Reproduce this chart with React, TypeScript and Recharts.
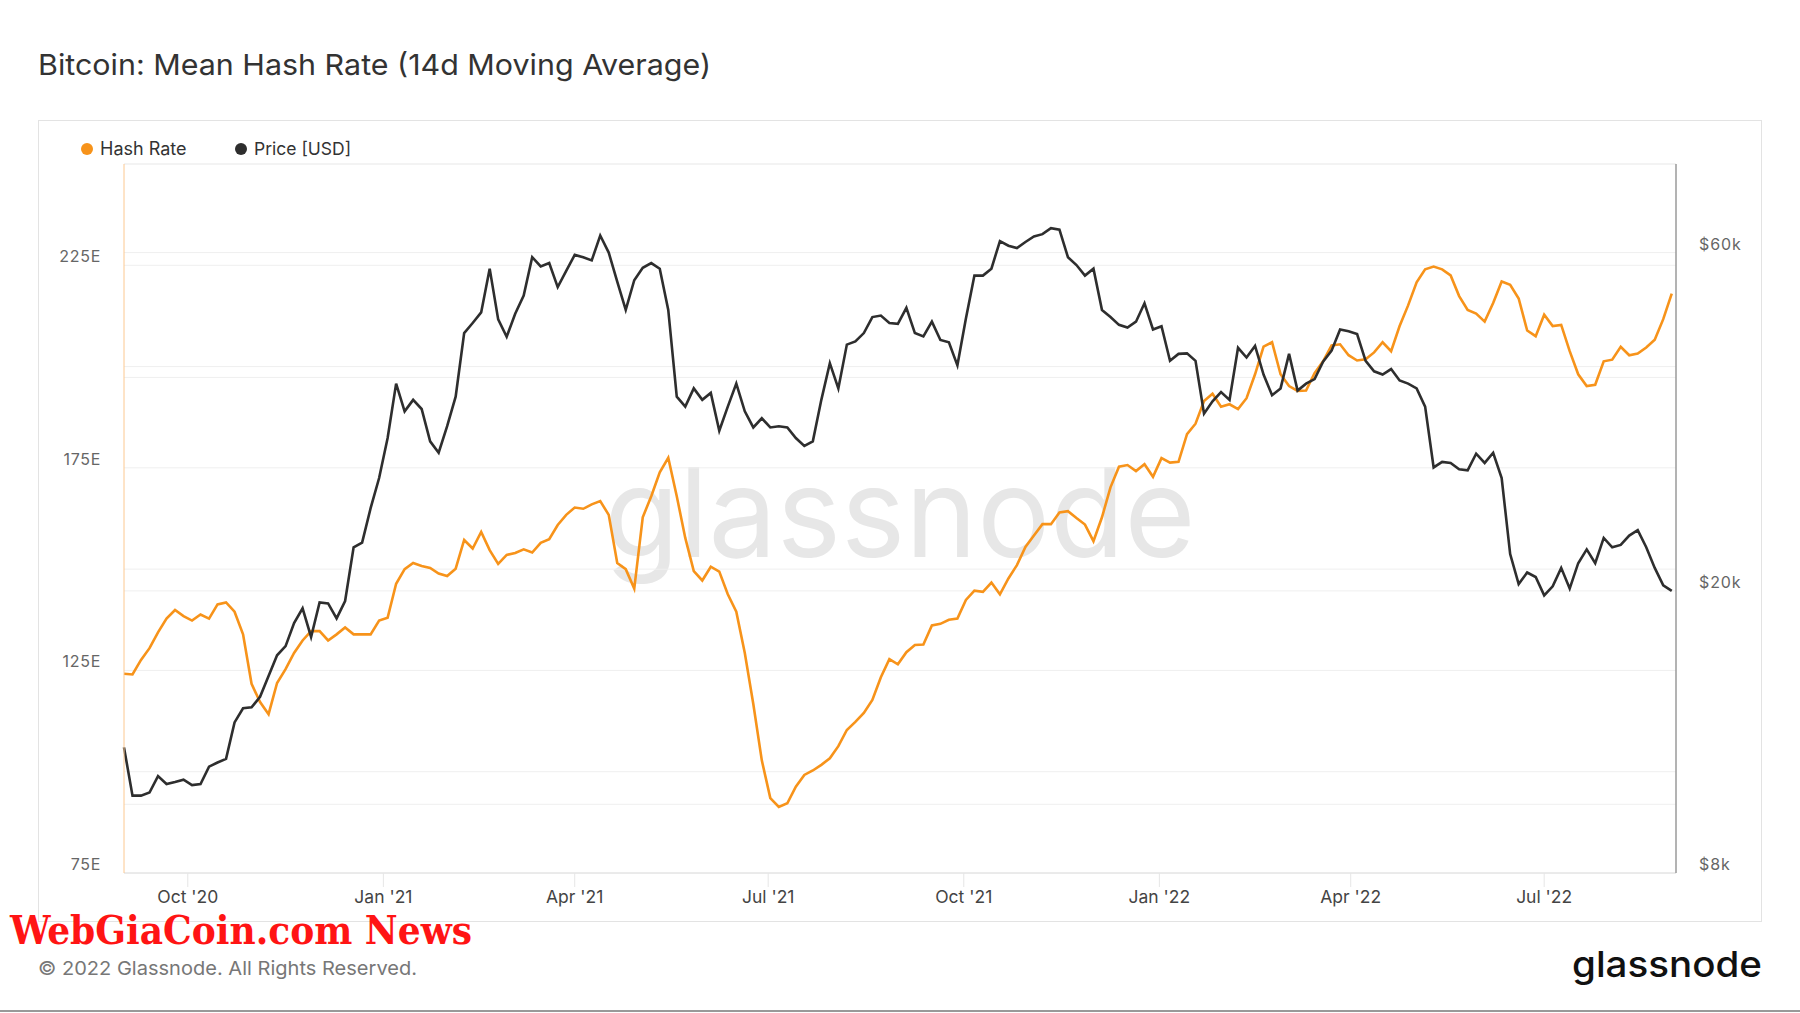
import React from "react";
import { ComposedChart, Line, XAxis, YAxis, CartesianGrid } from "recharts";

// one reading every 4 days, Sep 2020 -> Aug 2022
const dates = [
  "2020-09-01", "2020-09-05", "2020-09-09", "2020-09-13", "2020-09-17", "2020-09-21", "2020-09-25", "2020-09-29",
  "2020-10-03", "2020-10-07", "2020-10-11", "2020-10-15", "2020-10-19", "2020-10-23", "2020-10-27", "2020-10-31",
  "2020-11-04", "2020-11-08", "2020-11-12", "2020-11-16", "2020-11-20", "2020-11-24", "2020-11-28",
  "2020-12-02", "2020-12-06", "2020-12-10", "2020-12-14", "2020-12-18", "2020-12-22", "2020-12-26", "2020-12-30",
  "2021-01-03", "2021-01-07", "2021-01-11", "2021-01-15", "2021-01-19", "2021-01-23", "2021-01-27", "2021-01-31",
  "2021-02-04", "2021-02-08", "2021-02-12", "2021-02-16", "2021-02-20", "2021-02-24", "2021-02-28",
  "2021-03-04", "2021-03-08", "2021-03-12", "2021-03-16", "2021-03-20", "2021-03-24", "2021-03-28",
  "2021-04-01", "2021-04-05", "2021-04-09", "2021-04-13", "2021-04-17", "2021-04-21", "2021-04-25", "2021-04-29",
  "2021-05-03", "2021-05-07", "2021-05-11", "2021-05-15", "2021-05-19", "2021-05-23", "2021-05-27", "2021-05-31",
  "2021-06-04", "2021-06-08", "2021-06-12", "2021-06-16", "2021-06-20", "2021-06-24", "2021-06-28",
  "2021-07-02", "2021-07-06", "2021-07-10", "2021-07-14", "2021-07-18", "2021-07-22", "2021-07-26", "2021-07-30",
  "2021-08-03", "2021-08-07", "2021-08-11", "2021-08-15", "2021-08-19", "2021-08-23", "2021-08-27", "2021-08-31",
  "2021-09-04", "2021-09-08", "2021-09-12", "2021-09-16", "2021-09-20", "2021-09-24", "2021-09-28",
  "2021-10-02", "2021-10-06", "2021-10-10", "2021-10-14", "2021-10-18", "2021-10-22", "2021-10-26", "2021-10-30",
  "2021-11-03", "2021-11-07", "2021-11-11", "2021-11-15", "2021-11-19", "2021-11-23", "2021-11-27",
  "2021-12-01", "2021-12-05", "2021-12-09", "2021-12-13", "2021-12-17", "2021-12-21", "2021-12-25", "2021-12-29",
  "2022-01-02", "2022-01-06", "2022-01-10", "2022-01-14", "2022-01-18", "2022-01-22", "2022-01-26", "2022-01-30",
  "2022-02-03", "2022-02-07", "2022-02-11", "2022-02-15", "2022-02-19", "2022-02-23", "2022-02-27",
  "2022-03-03", "2022-03-07", "2022-03-11", "2022-03-15", "2022-03-19", "2022-03-23", "2022-03-27", "2022-03-31",
  "2022-04-04", "2022-04-08", "2022-04-12", "2022-04-16", "2022-04-20", "2022-04-24", "2022-04-28",
  "2022-05-02", "2022-05-06", "2022-05-10", "2022-05-14", "2022-05-18", "2022-05-22", "2022-05-26", "2022-05-30",
  "2022-06-03", "2022-06-07", "2022-06-11", "2022-06-15", "2022-06-19", "2022-06-23", "2022-06-27",
  "2022-07-01", "2022-07-05", "2022-07-09", "2022-07-13", "2022-07-17", "2022-07-21", "2022-07-25", "2022-07-29",
  "2022-08-02", "2022-08-06", "2022-08-10", "2022-08-14", "2022-08-18", "2022-08-22", "2022-08-26", "2022-08-30",
];

// mean hash rate, 14d MA (EH/s)
const hashRate = [
  124.2, 124.0, 127.6, 130.5, 134.4, 137.8, 139.9, 138.4,
  137.3, 138.8, 137.8, 141.3, 141.8, 139.5, 133.9, 121.7,
  117.2, 114.2, 121.9, 125.3, 129.3, 132.4, 134.7,
  134.7, 132.4, 133.9, 135.6, 133.9, 133.9, 133.9, 137.3,
  138.0, 146.4, 150.0, 151.5, 150.8, 150.3, 148.9, 148.3,
  150.1, 157.2, 155.1, 159.2, 154.7, 151.3, 153.5,
  154.0, 154.9, 154.1, 156.5, 157.4, 160.9, 163.4,
  165.2, 164.9, 166.0, 166.8, 163.4, 151.5, 150.0, 145.2,
  162.8, 168.0, 173.9, 177.5, 168.0, 157.7, 149.5, 147.2,
  150.6, 149.4, 143.8, 139.5, 129.3, 116.7, 102.8,
  93.5, 91.3, 92.2, 96.3, 99.2, 100.3, 101.7, 103.3,
  106.3, 110.3, 112.3, 114.5, 117.7, 123.3, 127.8, 126.5,
  129.5, 131.3, 131.4, 136.1, 136.5, 137.5, 137.8,
  142.4, 144.7, 144.4, 146.7, 143.8, 147.7, 151.0, 155.5,
  158.3, 161.1, 161.1, 164.0, 164.3, 162.6, 161.0,
  156.9, 162.8, 170.2, 175.3, 175.7, 174.2, 175.9, 172.8,
  177.4, 176.3, 176.5, 183.3, 185.9, 191.5, 193.3, 190.1,
  190.7, 189.5, 192.2, 198.1, 204.9, 206.0, 198.1,
  195.2, 194.0, 194.1, 198.4, 201.3, 205.2, 205.5, 202.8,
  201.5, 201.8, 203.5, 206.0, 203.8, 210.0, 215.1,
  220.8, 224.0, 224.7, 224.0, 222.5, 217.4, 214.0, 213.1,
  211.1, 215.7, 221.0, 220.2, 216.8, 208.9, 207.5,
  212.8, 210.0, 210.3, 203.8, 198.1, 195.2, 195.5, 201.3,
  201.7, 204.9, 202.8, 203.2, 204.7, 206.6, 211.7, 218.0,
];

// BTC price (USD)
const price = [
  12030, 10285, 10285, 10390, 10960, 10680, 10750, 10830,
  10645, 10680, 11300, 11455, 11590, 13045, 13660, 13700,
  14180, 15170, 16225, 16715, 18010, 18900, 17220,
  19260, 19200, 18290, 19350, 23040, 23400, 26160, 28850,
  32850, 39200, 35830, 37190, 36100, 32500, 31320, 34140,
  37570, 46200, 47740, 49400, 56950, 48300, 45640,
  49180, 52200, 59100, 57360, 57990, 53640, 56530,
  59550, 59100, 58500, 63420, 60000, 54580, 49800, 54850,
  57100, 57990, 56940, 49800, 37580, 36380, 38600, 37190,
  38040, 33640, 36380, 39200, 35830, 34000, 35030,
  34000, 34130, 34000, 32850, 32030, 32500, 37190, 41900,
  38600, 44500, 44960, 46200, 48660, 48900, 47740, 47600,
  50140, 46200, 45700, 47940, 45170, 44830, 41600,
  48450, 55680, 55680, 56950, 62290, 61360, 60900, 62100,
  63220, 63700, 64940, 64650, 59100, 57620, 55680,
  56950, 49800, 48660, 47450, 47030, 47940, 50900, 46740,
  47230, 42230, 43180, 43250, 42220, 35560, 37020, 38140,
  37190, 44040, 42670, 44300, 40380, 37750, 38600,
  43180, 38330, 39200, 39780, 42110, 43640, 46740, 46470,
  46050, 42220, 40800, 40380, 41100, 39600, 39200,
  38600, 36380, 29860, 30400, 30300, 29680, 29590, 31220,
  30300, 31320, 28850, 22540, 20450, 21230, 20920,
  19710, 20300, 21550, 20150, 21880, 22880, 21880, 23750,
  23040, 23220, 23930, 24360, 23040, 21550, 20360, 20000,
];

const xTickDates = ["2020-10-01", "2021-01-01", "2021-04-01", "2021-07-01", "2021-10-01", "2022-01-01", "2022-04-01", "2022-07-01"];
const xTickLabels = ["Oct '20", "Jan '21", "Apr '21", "Jul '21", "Oct '21", "Jan '22", "Apr '22", "Jul '22"];
const hashTicks = [75, 100, 125, 150, 175, 200, 225, 250];
const hashTickLabels = ["75E", "", "125E", "", "175E", "", "225E", ""];
const priceTicks = [8000, 10000, 20000, 40000, 60000];
const priceTickLabels = ["$8k", "", "$20k", "", "$60k"];

const FONT = "Inter, 'Noto Sans', sans-serif";
const ORANGE = "#f7931a";
const DARK = "#2e2e2e";

const data = dates.map((d, i) => ({ t: Date.parse(d), hash: hashRate[i], price: price[i] }));
const xTicks = xTickDates.map((d) => Date.parse(d));

const XTick = (props: any) => {
  const { x, y, payload } = props;
  const label = xTickLabels[xTicks.indexOf(payload.value)];
  return (
    <text x={x} y={y} dy={7} textAnchor="middle" dominantBaseline="central" fontSize={17.5} fill="#444" fontFamily={FONT}>
      {label}
    </text>
  );
};

const HashTick = (props: any) => {
  const { x, y, payload } = props;
  const label = hashTickLabels[hashTicks.indexOf(payload.value)];
  if (!label) return <g />;
  return (
    <text x={x} y={y} dy={-9} textAnchor="end" dominantBaseline="central" fontSize={16} fill="#666" fontFamily={FONT} letterSpacing={0.7}>
      {label}
    </text>
  );
};

const PriceTick = (props: any) => {
  const { x, y, payload } = props;
  const label = priceTickLabels[priceTicks.indexOf(payload.value)];
  if (!label) return <g />;
  return (
    <text x={x} y={y} dy={-9} textAnchor="start" dominantBaseline="central" fontSize={16} fill="#666" fontFamily={FONT} letterSpacing={0.9}>
      {label}
    </text>
  );
};

export default function App() {
  return (
    <div style={{ position: "absolute", left: 0, top: 0, width: 1800, height: 1013, background: "#fff", overflow: "hidden" }}>
      {/* frame, titles, watermark */}
      <svg width={1800} height={1013} style={{ position: "absolute", left: 0, top: 0 }}>
        <text x={38} y={75} fontSize={29} fill="#333" fontFamily={FONT} textLength={673} lengthAdjust="spacingAndGlyphs">
          Bitcoin: Mean Hash Rate (14d Moving Average)
        </text>
        <rect x={38.5} y={120.5} width={1723} height={801} fill="none" stroke="#e3e3e3" />
        <circle cx={87} cy={149} r={6} fill={ORANGE} />
        <text x={100} y={155} fontSize={18} fill="#333" fontFamily={FONT}>Hash Rate</text>
        <circle cx={241} cy={149} r={6} fill={DARK} />
        <text x={254} y={155} fontSize={17.5} fill="#333" fontFamily={FONT}>Price [USD]</text>
        <text x={900} y={557} textAnchor="middle" fontSize={124} fill="#e7e7e7" fontFamily={FONT}
          textLength={591} lengthAdjust="spacingAndGlyphs">
          glassnode
        </text>
        <text x={38} y={975} fontSize={19} fill="#777" fontFamily={FONT} textLength={379} lengthAdjust="spacingAndGlyphs">
          © 2022 Glassnode. All Rights Reserved.
        </text>
        <text x={1762} y={977} textAnchor="end" fontSize={36} fontWeight={500} fill="#111" fontFamily={FONT}
          textLength={190} lengthAdjust="spacingAndGlyphs">
          glassnode
        </text>
        <text x={10} y={944} fontSize={39} fontWeight="bold" fill="#ff1414"
          fontFamily="'DejaVu Serif Condensed', 'DejaVu Serif', serif" textLength={462} lengthAdjust="spacingAndGlyphs">
          WebGiaCoin.com News
        </text>
        <rect x={0} y={1010} width={1800} height={2} fill="#999" />
      </svg>

      <div style={{ position: "absolute", left: 0, top: 0 }}>
        <ComposedChart width={1800} height={1013} data={data} margin={{ top: 164, right: 64, bottom: 100, left: 64 }}>
          <CartesianGrid yAxisId="hash" vertical={false} stroke="#efefef" />
          <CartesianGrid yAxisId="price" vertical={false} stroke="#efefef" />
          <XAxis
            dataKey="t"
            type="number"
            domain={[Date.parse("2020-09-01"), Date.parse("2022-09-01")]}
            ticks={xTicks}
            height={40}
            axisLine={{ stroke: "#e2e2e2" }}
            tickLine={{ stroke: "#e6e6e6" }}
            tickSize={14}
            tick={<XTick />}
          />
          <YAxis
            yAxisId="hash"
            orientation="left"
            width={60}
            domain={[75, 250]}
            ticks={hashTicks}
            allowDataOverflow
            axisLine={{ stroke: "#fcc890" }}
            tickLine={false}
            tickSize={0}
            tickMargin={23}
            tick={<HashTick />}
          />
          <YAxis
            yAxisId="price"
            orientation="right"
            width={60}
            scale="log"
            domain={[8000, 80000]}
            ticks={priceTicks}
            allowDataOverflow
            axisLine={{ stroke: "#9a9a9a", strokeWidth: 1.5 }}
            tickLine={false}
            tickSize={0}
            tickMargin={23}
            tick={<PriceTick />}
          />
          <Line yAxisId="hash" dataKey="hash" type="linear" stroke={ORANGE} strokeWidth={2.6} dot={false} isAnimationActive={false} />
          <Line yAxisId="price" dataKey="price" type="linear" stroke={DARK} strokeWidth={2.6} dot={false} isAnimationActive={false} />
        </ComposedChart>
      </div>
    </div>
  );
}
